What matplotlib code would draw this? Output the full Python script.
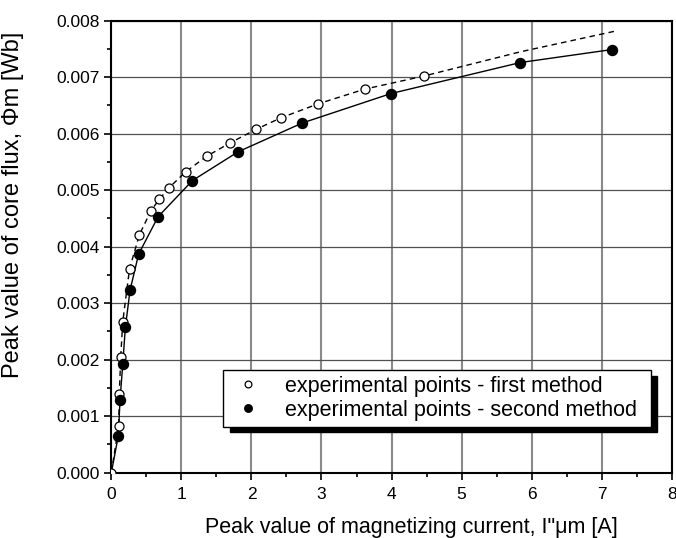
import numpy as np
import matplotlib.pyplot as plt
from matplotlib.patches import Rectangle
from matplotlib.ticker import MultipleLocator, FormatStrFormatter

# ── Data ──────────────────────────────────────────────────────────────────────
# first method (hollow points)
i1 = [0.0, 0.105, 0.114, 0.134, 0.163, 0.26, 0.40, 0.567, 0.686, 0.82,
      1.066, 1.36, 1.70, 2.07, 2.42, 2.955, 3.62, 4.46]
phi1 = [0.0, 0.00083, 0.00139, 0.00205, 0.00267, 0.00361, 0.00421, 0.00464,
        0.00484, 0.00504, 0.00533, 0.00560, 0.00584, 0.00608, 0.00628,
        0.00653, 0.00679, 0.00702]

# dashed curve through the first-method points, extended to the right
i1_line = [0.0, 0.105, 0.114, 0.134, 0.163, 0.26, 0.40, 0.567, 0.686, 0.82,
           1.066, 1.36, 1.70, 2.07, 2.42, 2.955, 3.62, 4.46, 5.84, 7.21]
phi1_line = [0.0, 0.00083, 0.00139, 0.00205, 0.00267, 0.00361, 0.00421,
             0.00464, 0.00484, 0.00504, 0.00533, 0.00560, 0.00584, 0.00608,
             0.00628, 0.00653, 0.00679, 0.00702, 0.00745, 0.00782]

# second method (filled points)
i2 = [0.0, 0.10, 0.124, 0.163, 0.20, 0.267, 0.39, 0.667, 1.157, 1.81,
      2.727, 3.99, 5.84, 7.15]
phi2 = [0.0, 0.000655, 0.00129, 0.00192, 0.00257, 0.00323, 0.00387,
        0.00453, 0.00517, 0.00568, 0.00619, 0.00671, 0.00726, 0.00749]

labels = ['experimental points - first method',
          'experimental points - second method']

plt.rcParams['font.family'] = ['Liberation Sans', 'DejaVu Sans']

# ── Figure ────────────────────────────────────────────────────────────────────
fig = plt.figure(figsize=(6.76, 5.38), dpi=100)
ax = fig.add_axes([0.1647, 0.1214, 0.829, 0.8401])

ax.plot(i1_line, phi1_line, color='black', lw=1.0, ls=(0, (4, 3)), zorder=3)
ax.plot(i2, phi2, color='black', lw=1.0, zorder=3)
ax.plot(i1, phi1, 'o', ms=6.5, mfc='white', mec='black', mew=0.9,
        zorder=4, label=labels[0])
ax.plot(i2[1:], phi2[1:], 'o', ms=7.2, mfc='black', mec='black',
        zorder=4, label=labels[1])

# ── Axes formatting ───────────────────────────────────────────────────────────
ax.set_xlim(0, 8)
ax.set_ylim(0, 0.008)
ax.xaxis.set_major_locator(MultipleLocator(1))
ax.xaxis.set_minor_locator(MultipleLocator(0.5))
ax.yaxis.set_major_locator(MultipleLocator(0.001))
ax.yaxis.set_minor_locator(MultipleLocator(0.0005))
ax.yaxis.set_major_formatter(FormatStrFormatter('%.3f'))
ax.tick_params(which='major', direction='out', length=5, width=1.2,
               labelsize=12.5, pad=3)
ax.tick_params(which='minor', direction='out', length=3, width=1.2)
ax.tick_params(axis='x', which='major', pad=5)

ax.grid(True, axis='x', which='major', color='#8a8a8a', lw=1.5, zorder=0)
ax.grid(True, axis='y', which='major', color='#505050', lw=0.9, zorder=0)
ax.set_axisbelow(True)
for s in ax.spines.values():
    s.set_linewidth(1.5)

ax.set_xlabel('Peak value of magnetizing current, I"μm [A]', fontsize=15.5)
ax.set_ylabel('Peak value of core flux, Φm [Wb]', fontsize=17)
ax.xaxis.set_label_coords(0.536, -0.098)
ax.yaxis.set_label_coords(-0.156, 0.592)

# ── Legend with solid black shadow ────────────────────────────────────────────
lx0, ly0, lw_, lh_ = 0.199, 0.1018, 0.7635, 0.1252
ax.add_patch(Rectangle((lx0 + 0.012, ly0 - 0.012), lw_, lh_,
                       transform=ax.transAxes, facecolor='black',
                       edgecolor='black', zorder=6, clip_on=False))
ax.add_patch(Rectangle((lx0, ly0), lw_, lh_, transform=ax.transAxes,
                       facecolor='white', edgecolor='black', lw=1.0,
                       zorder=7, clip_on=False))
leg = ax.legend(loc='center left', bbox_to_anchor=(lx0 - 0.005, ly0 + lh_ / 2),
                frameon=False, fontsize=15.5, markerscale=0.75,
                handlelength=1.0, handletextpad=1.2, labelspacing=0.15,
                borderpad=0.3)
leg.set_zorder(8)

plt.savefig('out.png', dpi=100)
